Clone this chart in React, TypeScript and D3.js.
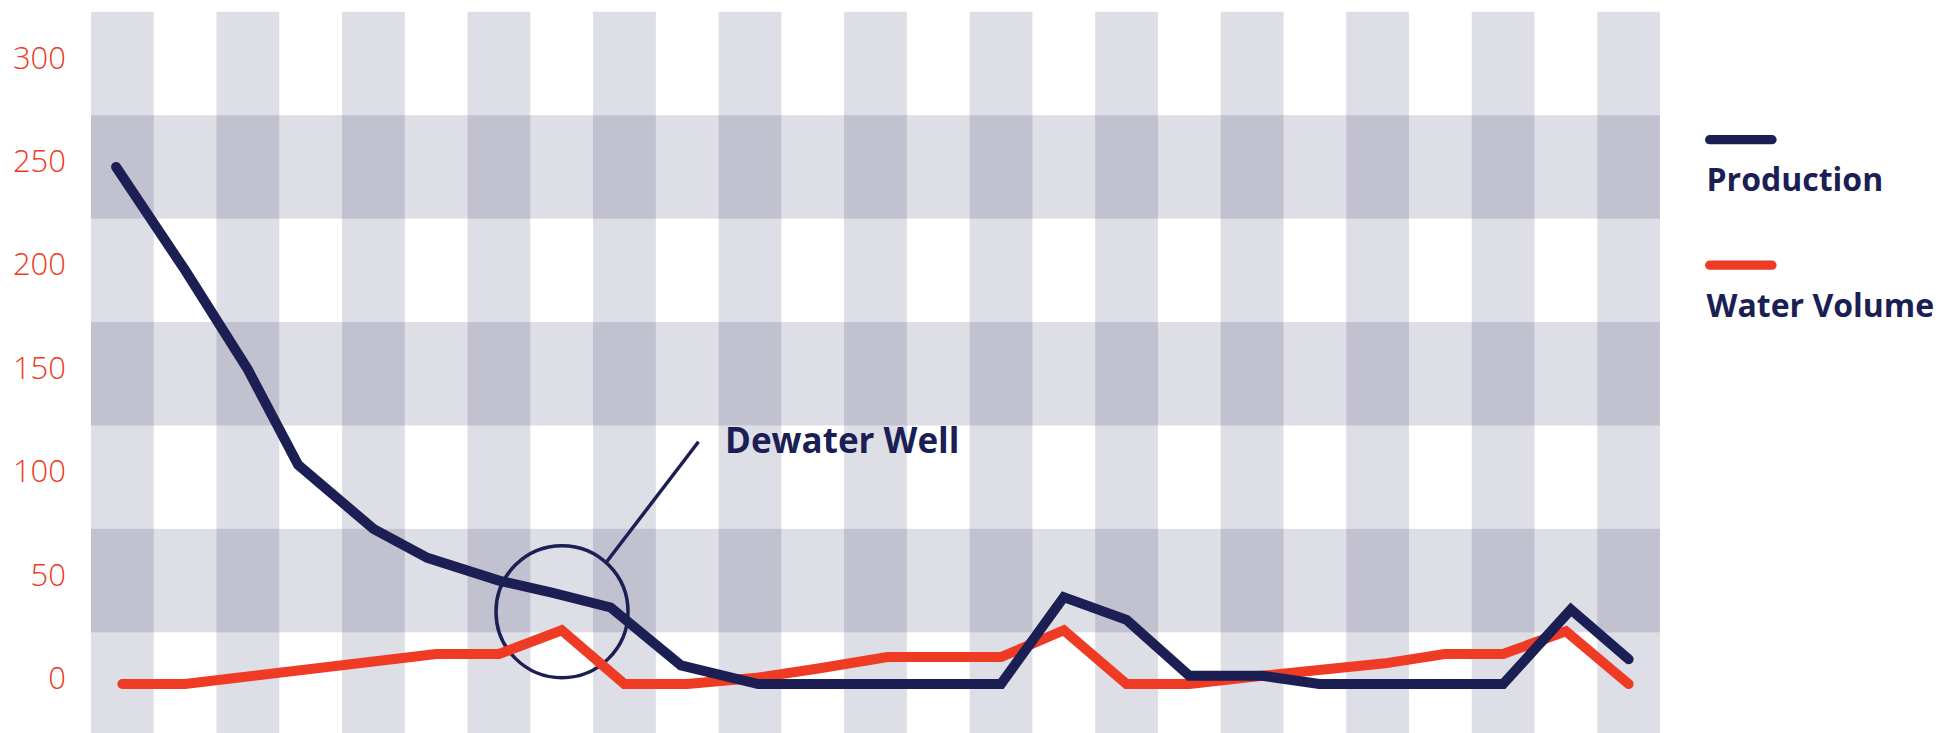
import React from 'react';
import * as d3 from 'd3';

const W = 1955;
const H = 733;

// Position along the x-axis, in column steps (one column per period)
const productionT = [-0.1, 1, 2, 2.8, 4, 4.86, 6, 6.86, 7.78, 8.9, 10.13, 14, 15, 16, 17, 18.16, 19.07, 22, 23.08, 24];
const productionV = [250, 200, 152, 106, 75, 61, 50, 44, 37, 9, 0, 0, 42, 31, 4, 4, 0, 0, 36, 12];

const waterT = [0, 1, 5, 6, 7, 8, 9, 10.11, 11.09, 12.19, 14, 15, 16, 17, 18.16, 20.12, 21.07, 22, 23, 24];
const waterV = [0, 0, 14.5, 14.5, 26, 0, 0, 3, 7.5, 13, 13, 26, 0, 0, 4, 10, 14.5, 14.5, 25.5, 0];

const yTicks = [0, 50, 100, 150, 200, 250, 300];
const bandCenters = [250, 150, 50];
const columnCount = 25;

const legendLabels = ['Production', 'Water Volume'];
const annotationLabel = 'Dewater Well';

const NAVY = '#1b1f54';
const RED = '#ef3a24';
const LIGHT = '#dedee6';
const DARK = '#c2c1cf';
const FONT = "'Open Sans', 'Noto Sans', sans-serif";

export default function App() {
  const x = d3.scaleLinear().domain([-0.5, columnCount - 0.5]).range([91, 1660]);
  const y = d3.scaleLinear().domain([0, 300]).range([684, 63.5]);
  const colW = x(1) - x(0);
  const rowH = y(0) - y(50);

  const line = d3
    .line<[number, number]>()
    .x((d) => x(d[0]))
    .y((d) => y(d[1]));

  const production = productionT.map((t, i) => [t, productionV[i]] as [number, number]);
  const water = waterT.map((t, i) => [t, waterV[i]] as [number, number]);

  const cols = d3.range(columnCount);
  const stripeCols = cols.filter((c) => c % 2 === 0);
  const gridTop = y(325);

  const colorOf = [NAVY, RED];

  return (
    <svg
      width={W}
      height={H}
      style={{ position: 'absolute', left: 0, top: 0, background: '#fff' }}
      fontFamily={FONT}
    >
      {/* vertical stripes */}
      {stripeCols.map((c) => (
        <rect key={`s${c}`} x={x(c - 0.5)} y={gridTop} width={colW} height={H - gridTop} fill={LIGHT} />
      ))}
      {/* horizontal bands */}
      {bandCenters.map((v) => (
        <rect key={`b${v}`} x={x(-0.5)} y={y(v + 25)} width={x(columnCount - 0.5) - x(-0.5)} height={rowH} fill={LIGHT} />
      ))}
      {/* band / stripe crossings */}
      {bandCenters.map((v) =>
        stripeCols.map((c) => (
          <rect key={`d${v}-${c}`} x={x(c - 0.5)} y={y(v + 25)} width={colW} height={rowH} fill={DARK} />
        ))
      )}

      {/* y-axis labels */}
      {yTicks.map((v) => (
        <text
          key={`t${v}`}
          x={66}
          y={y(v) + 5}
          textAnchor="end"
          fontSize={31}
          fontWeight={300}
          fill={RED}
        >
          {v}
        </text>
      ))}

      {/* annotation */}
      <circle cx={562} cy={611.7} r={66} fill="none" stroke={NAVY} strokeWidth={3.5} />
      <line x1={698.5} y1={441.8} x2={606.7} y2={561.7} stroke={NAVY} strokeWidth={3.5} />
      <text x={725} y={452.7} fontSize={35} fontWeight={700} fill={NAVY}>
        {annotationLabel}
      </text>

      {/* series */}
      <path d={line(water) || ''} fill="none" stroke={RED} strokeWidth={10} strokeLinecap="round" strokeLinejoin="miter" />
      <path d={line(production) || ''} fill="none" stroke={NAVY} strokeWidth={10} strokeLinecap="round" strokeLinejoin="miter" />

      {/* legend */}
      {legendLabels.map((label, i) => (
        <g key={label} transform={`translate(0, ${i * 125.5})`}>
          <line x1={1709.7} x2={1772} y1={139.7} y2={139.7} stroke={colorOf[i]} strokeWidth={9.3} strokeLinecap="round" />
          <text x={1706.5} y={191} fontSize={32} fontWeight={700} fill={NAVY}>
            {label}
          </text>
        </g>
      ))}
    </svg>
  );
}
